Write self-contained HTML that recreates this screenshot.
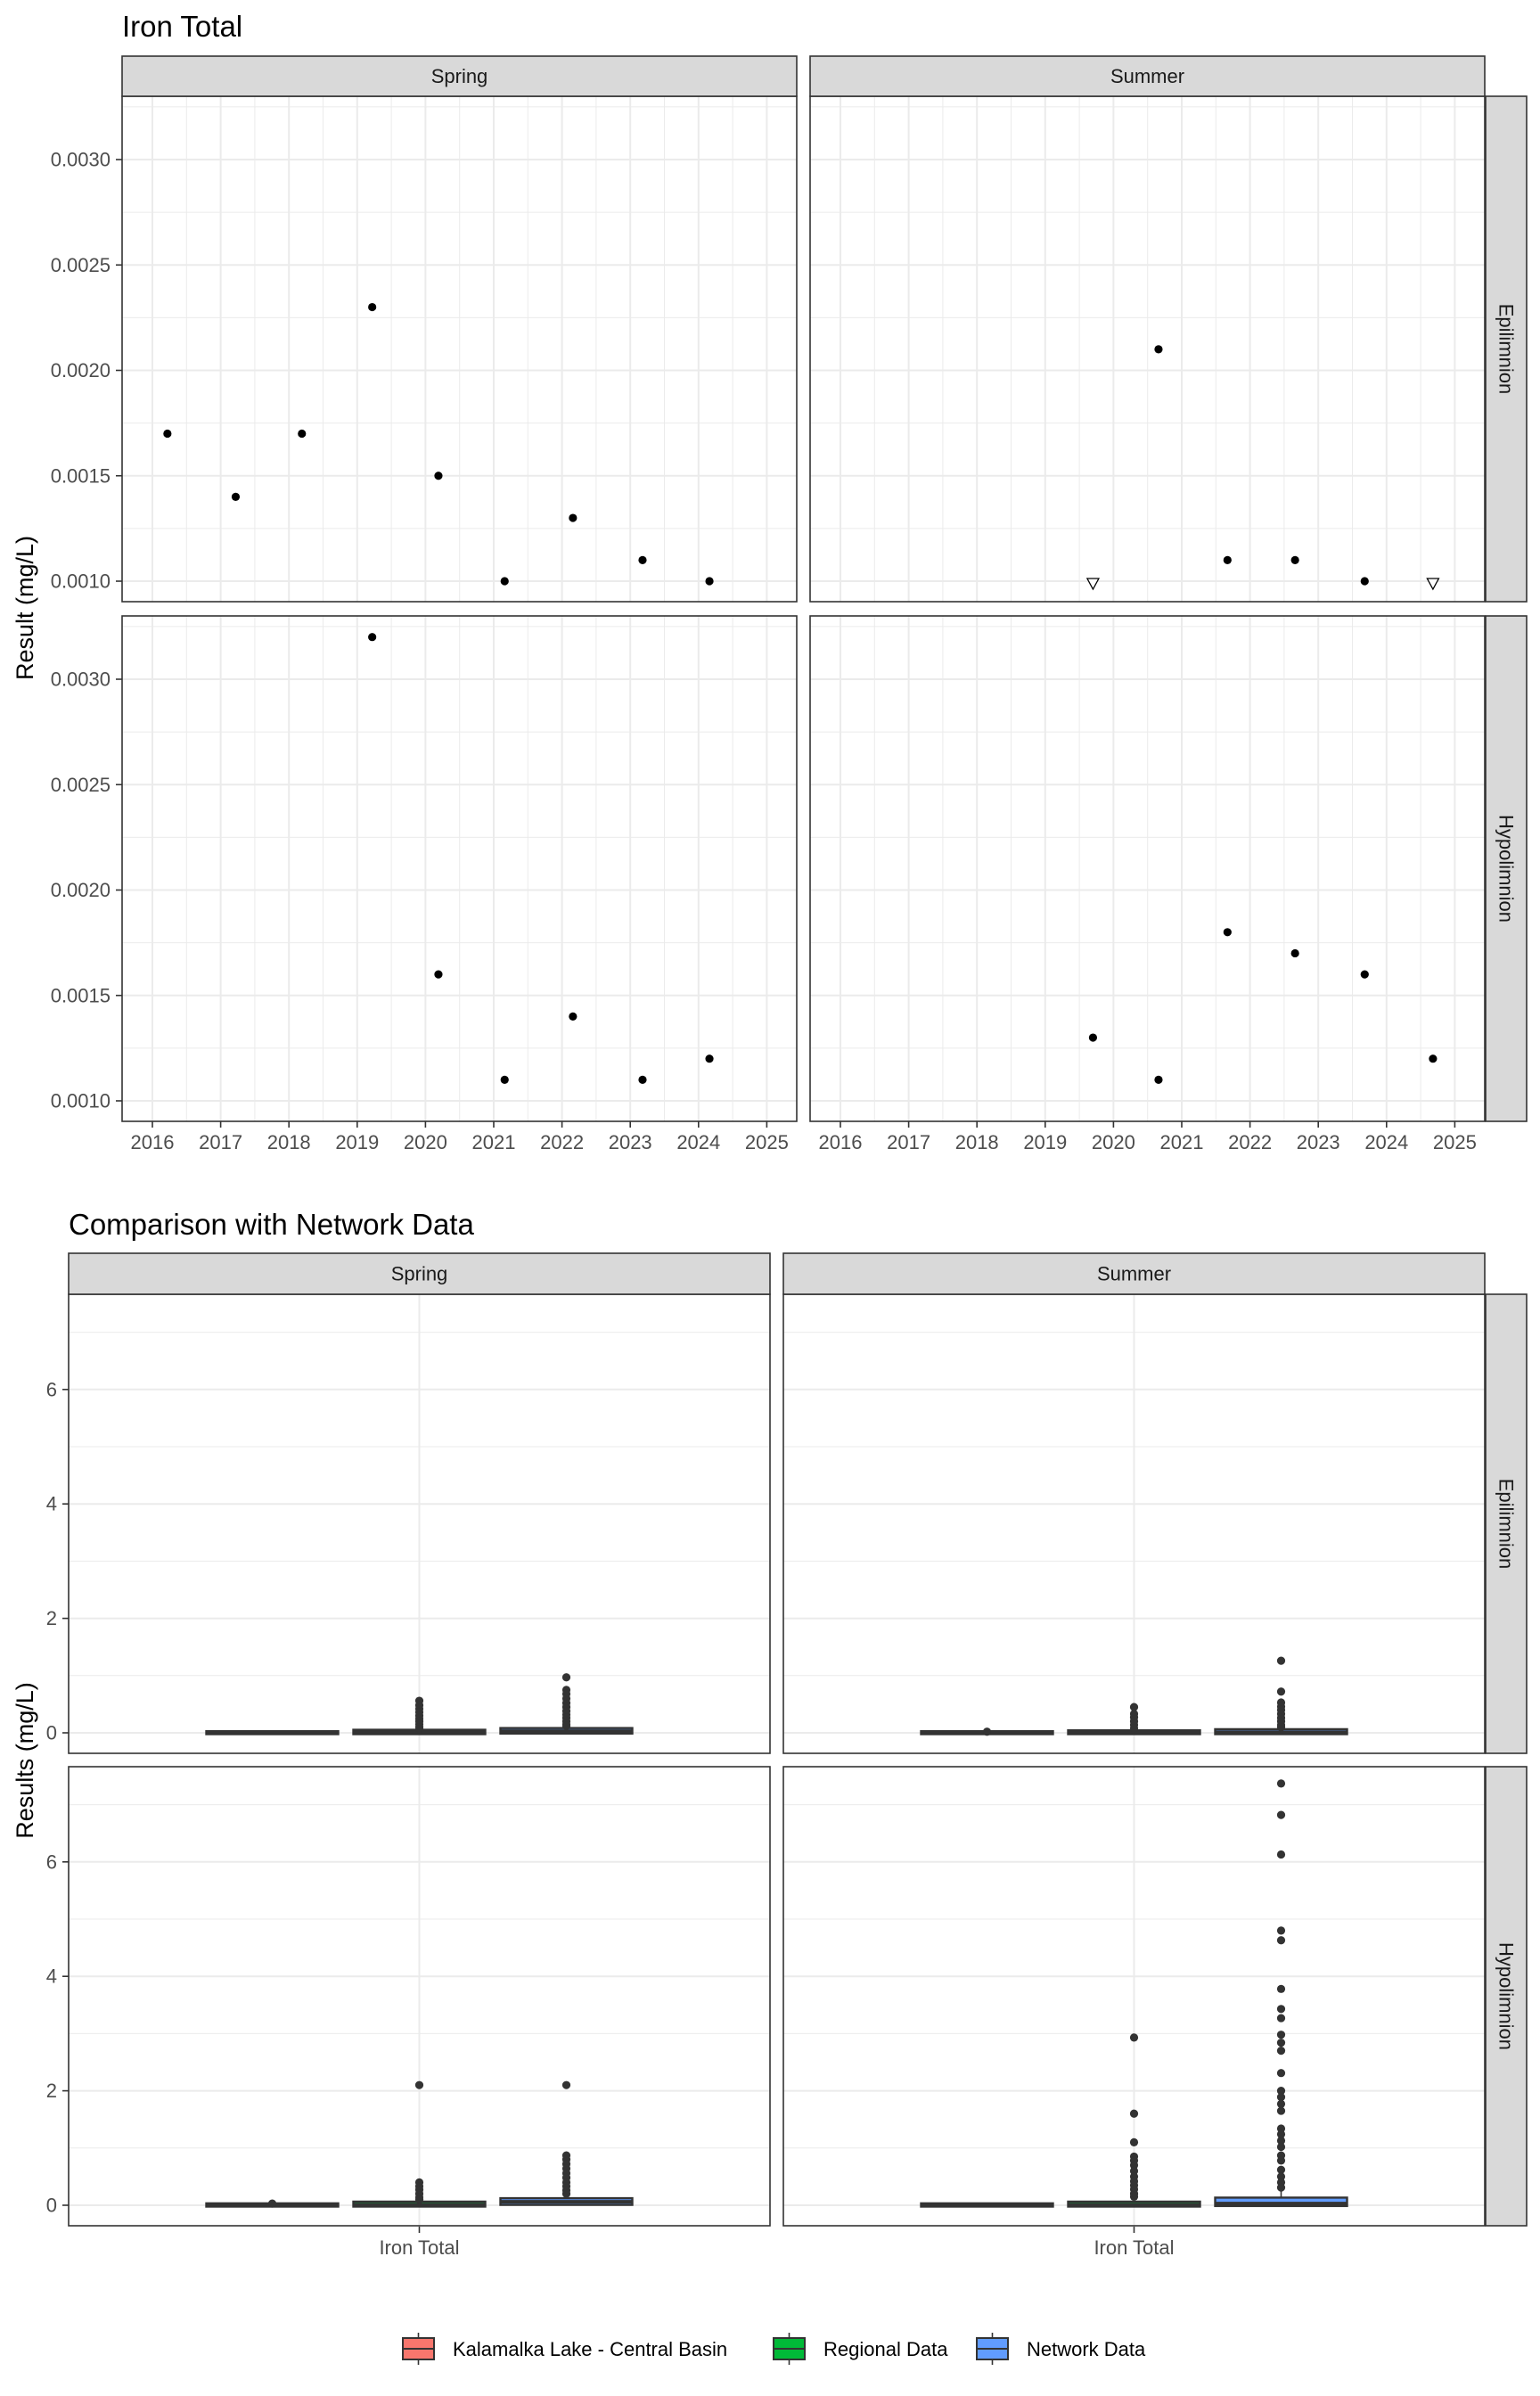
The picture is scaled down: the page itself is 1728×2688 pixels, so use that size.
<!DOCTYPE html>
<html><head><meta charset="utf-8">
<style>
html,body{margin:0;padding:0;background:#fff;}
svg{display:block;font-family:"Liberation Sans",Arial,sans-serif;}
</style></head>
<body>
<svg id="chart" width="1728" height="2688" viewBox="0 0 1728 2688" xmlns="http://www.w3.org/2000/svg">
<rect x="0" y="0" width="1728" height="2688" fill="#ffffff"/>
<text x="137" y="41" font-size="33" fill="#000">Iron Total</text>
<text x="77" y="1385" font-size="33" fill="#000">Comparison with Network Data</text>
<text transform="translate(37,682) rotate(-90)" text-anchor="middle" font-size="27" fill="#000">Result (mg/L)</text>
<text transform="translate(37,1975) rotate(-90)" text-anchor="middle" font-size="27" fill="#000">Results (mg/L)</text>
<g id="top"></g>
<g id="bottom"></g>
<g id="legend"></g>
</svg>
<script>
// ---------- Top chart data ----------
const yearTicks = [2016,2017,2018,2019,2020,2021,2022,2023,2024,2025];
const yTickVals = [0.0010,0.0015,0.0020,0.0025,0.0030];
const yTickLabels = ["0.0010","0.0015","0.0020","0.0025","0.0030"];
const springEpiYears = [2016.22,2017.22,2018.19,2019.22,2020.19,2021.16,2022.16,2023.18,2024.16];
const springEpiVals = [0.0017,0.0014,0.0017,0.0023,0.0015,0.0010,0.0013,0.0011,0.0010];
const springHypoYears = [2019.22,2020.19,2021.16,2022.16,2023.18,2024.16];
const springHypoVals = [0.0032,0.0016,0.0011,0.0014,0.0011,0.0012];
const summerEpiYears = [2019.7,2020.66,2021.67,2022.66,2023.68,2024.68];
const summerEpiVals = [0.0010,0.0021,0.0011,0.0011,0.0010,0.0010];
const summerEpiBelowDL = [1,0,0,0,0,1];
const summerHypoYears = [2019.7,2020.66,2021.67,2022.66,2023.68,2024.68];
const summerHypoVals = [0.0013,0.0011,0.0018,0.0017,0.0016,0.0012];

// ---------- Bottom chart data ----------
const groups = ["Kalamalka Lake - Central Basin","Regional Data","Network Data"];
const groupColors = ["#F8766D","#00BA38","#619CFF"];
const boxTickVals = [0,2,4,6];
const boxTickLabels = ["0","2","4","6"];
// [q1, median, q3, upper whisker] per group
const springEpiBoxes = [[0,0,0.005,0.01],[0,0.01,0.03,0.06],[0.01,0.03,0.06,0.12]];
const springEpiOut0 = [];
const springEpiOut1 = [0.56,0.48,0.42,0.36,0.3,0.25,0.2,0.15,0.1,0.07];
const springEpiOut2 = [0.97,0.75,0.68,0.6,0.52,0.45,0.38,0.32,0.26,0.2,0.15,0.12];
const summerEpiBoxes = [[0,0,0.005,0.01],[0,0.005,0.02,0.04],[0,0.01,0.04,0.08]];
const summerEpiOut0 = [0.02];
const summerEpiOut1 = [0.45,0.33,0.27,0.2,0.14,0.08];
const summerEpiOut2 = [1.26,0.72,0.53,0.46,0.4,0.33,0.26,0.2,0.14,0.1];
const springHypoBoxes = [[0,0,0.01,0.02],[0,0.01,0.04,0.08],[0.03,0.06,0.1,0.15]];
const springHypoOut0 = [0.03];
const springHypoOut1 = [2.1,0.4,0.33,0.27,0.2,0.14,0.1];
const springHypoOut2 = [2.1,0.87,0.8,0.72,0.64,0.56,0.48,0.4,0.33,0.26,0.2];
const summerHypoBoxes = [[0,0,0.01,0.02],[0,0.01,0.04,0.08],[0.01,0.03,0.11,0.25]];
const summerHypoOut0 = [];
const summerHypoOut1 = [2.93,1.6,1.1,0.85,0.78,0.7,0.6,0.5,0.42,0.35,0.28,0.2,0.15];
const summerHypoOut2 = [7.37,6.82,6.13,4.8,4.63,3.78,3.43,3.27,2.98,2.84,2.7,2.31,2.0,1.89,1.77,1.65,1.34,1.24,1.13,1.02,0.87,0.78,0.62,0.5,0.4,0.31];

const NS = "http://www.w3.org/2000/svg";
function mk(parent, tag, attrs, text){
  const e = document.createElementNS(NS, tag);
  for (const k in attrs) e.setAttribute(k, attrs[k]);
  if (text !== undefined) e.textContent = text;
  parent.appendChild(e);
  return e;
}

// ---------- Top chart ----------
const topG = document.getElementById('top');
const TOP_PANELS = [
  {name:'spring-epilimnion', x:137, y:108, yrs:springEpiYears, vals:springEpiVals, tri:null},
  {name:'summer-epilimnion', x:909, y:108, yrs:summerEpiYears, vals:summerEpiVals, tri:summerEpiBelowDL},
  {name:'spring-hypolimnion', x:137, y:691, yrs:springHypoYears, vals:springHypoVals, tri:null},
  {name:'summer-hypolimnion', x:909, y:691, yrs:summerHypoYears, vals:summerHypoVals, tri:null}
];
const TPW = 757, TPH = 567;
function txScale(px, yr){ return px + 34 + (yr - 2016) * 76.6; }
function tyScale(py, v){ return py + 71 + (0.0030 - v) * 236500; }

TOP_PANELS.forEach(p => {
  const g = mk(topG, 'g', {});
  
  
  mk(g, 'rect', {x:p.x, y:p.y, width:TPW, height:TPH, fill:'#fff'});
  // minor grid
  for (let i = 0; i < yearTicks.length - 1; i++) {
    const x = txScale(p.x, yearTicks[i] + 0.5);
    mk(g, 'line', {x1:x, x2:x, y1:p.y, y2:p.y+TPH, stroke:'#ebebeb', 'stroke-width':1});
  }
  [0.00125,0.00175,0.00225,0.00275,0.00325].forEach(v => {
    const y = tyScale(p.y, v);
    if (y > p.y && y < p.y + TPH) mk(g, 'line', {x1:p.x, x2:p.x+TPW, y1:y, y2:y, stroke:'#ebebeb', 'stroke-width':1});
  });
  // major grid
  yearTicks.forEach(yr => {
    const x = txScale(p.x, yr);
    mk(g, 'line', {x1:x, x2:x, y1:p.y, y2:p.y+TPH, stroke:'#ebebeb', 'stroke-width':2});
  });
  yTickVals.forEach(v => {
    const y = tyScale(p.y, v);
    mk(g, 'line', {x1:p.x, x2:p.x+TPW, y1:y, y2:y, stroke:'#ebebeb', 'stroke-width':2});
  });
  // points
  p.yrs.forEach((yr, i) => {
    const cx = txScale(p.x, yr), cy = tyScale(p.y, p.vals[i]);
    let m;
    if (p.tri && p.tri[i]) {
      m = mk(g, 'path', {d:`M${cx-6.5},${cy-3} L${cx+6.5},${cy-3} L${cx},${cy+9} Z`, fill:'#fff', stroke:'#000', 'stroke-width':1.3});
    } else {
      m = mk(g, 'circle', {cx:cx, cy:cy, r:4.6, fill:'#000'});
    }
    
    
  });
  mk(g, 'rect', {x:p.x, y:p.y, width:TPW, height:TPH, fill:'none', stroke:'#333', 'stroke-width':1.6});
});
// y axis ticks/labels top (left column)
[108, 691].forEach(py => {
  yTickVals.forEach((v, i) => {
    const y = tyScale(py, v);
    mk(topG, 'line', {x1:130, x2:137, y1:y, y2:y, stroke:'#333', 'stroke-width':1.6});
    const t = mk(topG, 'text', {x:124, y:y+7.5, 'text-anchor':'end', 'font-size':22, fill:'#4d4d4d'}, yTickLabels[i]);
    
    
  });
});
// x axis ticks/labels top (bottom row)
[137, 909].forEach(px => {
  yearTicks.forEach(yr => {
    const x = txScale(px, yr);
    mk(topG, 'line', {x1:x, x2:x, y1:1258, y2:1265, stroke:'#333', 'stroke-width':1.6});
    const t = mk(topG, 'text', {x:x, y:1289, 'text-anchor':'middle', 'font-size':22, fill:'#4d4d4d'}, String(yr));
    
    
  });
});
// strips top
function stripTop(parent, x, y, w, h, label){
  const g = mk(parent, 'g', {});
  
  
  mk(g, 'rect', {x:x, y:y, width:w, height:h, fill:'#d9d9d9', stroke:'#333', 'stroke-width':1.6});
  mk(g, 'text', {x:x+w/2, y:y+h/2+7.5, 'text-anchor':'middle', 'font-size':22, fill:'#1a1a1a'}, label);
}
function stripRight(parent, x, y, w, h, label){
  const g = mk(parent, 'g', {});
  
  
  mk(g, 'rect', {x:x, y:y, width:w, height:h, fill:'#d9d9d9', stroke:'#333', 'stroke-width':1.6});
  mk(g, 'text', {transform:`translate(${x+w/2-7.5},${y+h/2}) rotate(90)`, 'text-anchor':'middle', 'font-size':22, fill:'#1a1a1a'}, label);
}
stripTop(topG, 137, 63, TPW, 45, 'Spring');
stripTop(topG, 909, 63, TPW, 45, 'Summer');
stripRight(topG, 1667, 108, 46, TPH, 'Epilimnion');
stripRight(topG, 1667, 691, 46, TPH, 'Hypolimnion');

// ---------- Bottom chart ----------
const botG = document.getElementById('bottom');
const BPW = 787, BPH = 515;
const BOT_PANELS = [
  {name:'spring-epilimnion', x:77, y:1452, boxes:springEpiBoxes, outs:[springEpiOut0,springEpiOut1,springEpiOut2]},
  {name:'summer-epilimnion', x:879, y:1452, boxes:summerEpiBoxes, outs:[summerEpiOut0,summerEpiOut1,summerEpiOut2]},
  {name:'spring-hypolimnion', x:77, y:1982, boxes:springHypoBoxes, outs:[springHypoOut0,springHypoOut1,springHypoOut2]},
  {name:'summer-hypolimnion', x:879, y:1982, boxes:summerHypoBoxes, outs:[summerHypoOut0,summerHypoOut1,summerHypoOut2]}
];
function byScale(py, v){ return py + 492 - v * 64.2; }
function bxCenter(px){ return px + 393.5; }
const DODGE = 165, BW = 148;

BOT_PANELS.forEach(p => {
  const g = mk(botG, 'g', {});
  
  
  mk(g, 'rect', {x:p.x, y:p.y, width:BPW, height:BPH, fill:'#fff'});
  [1,3,5,7].forEach(v => {
    const y = byScale(p.y, v);
    mk(g, 'line', {x1:p.x, x2:p.x+BPW, y1:y, y2:y, stroke:'#ebebeb', 'stroke-width':1});
  });
  boxTickVals.forEach(v => {
    const y = byScale(p.y, v);
    mk(g, 'line', {x1:p.x, x2:p.x+BPW, y1:y, y2:y, stroke:'#ebebeb', 'stroke-width':2});
  });
  const cxp = bxCenter(p.x);
  mk(g, 'line', {x1:cxp, x2:cxp, y1:p.y, y2:p.y+BPH, stroke:'#ebebeb', 'stroke-width':2});
  p.boxes.forEach((b, gi) => {
    const cx = cxp + (gi - 1) * DODGE;
    const bg = mk(g, 'g', {});
    
    
    const yq1 = byScale(p.y, b[0]), ymed = byScale(p.y, b[1]), yq3 = byScale(p.y, b[2]), ywh = byScale(p.y, b[3]);
    mk(bg, 'line', {x1:cx, x2:cx, y1:yq3, y2:ywh, stroke:'#333', 'stroke-width':1.6});
    mk(bg, 'rect', {x:cx-BW/2, y:yq3-1.5, width:BW, height:Math.max(yq1-yq3+3, 3), fill:groupColors[gi], stroke:'#333', 'stroke-width':2.4});
    mk(bg, 'line', {x1:cx-BW/2, x2:cx+BW/2, y1:ymed, y2:ymed, stroke:'#333', 'stroke-width':4});
    p.outs[gi].forEach(v => {
      const c = mk(bg, 'circle', {cx:cx, cy:byScale(p.y, v), r:4.6, fill:'#333'});
      
      
    });
  });
  mk(g, 'rect', {x:p.x, y:p.y, width:BPW, height:BPH, fill:'none', stroke:'#333', 'stroke-width':1.6});
});
[1452, 1982].forEach(py => {
  boxTickVals.forEach((v, i) => {
    const y = byScale(py, v);
    mk(botG, 'line', {x1:70, x2:77, y1:y, y2:y, stroke:'#333', 'stroke-width':1.6});
    const t = mk(botG, 'text', {x:64, y:y+7.5, 'text-anchor':'end', 'font-size':22, fill:'#4d4d4d'}, boxTickLabels[i]);
    
    
  });
});
[77, 879].forEach(px => {
  const x = bxCenter(px);
  mk(botG, 'line', {x1:x, x2:x, y1:2498, y2:2505, stroke:'#333', 'stroke-width':1.6});
  const t = mk(botG, 'text', {x:x, y:2529, 'text-anchor':'middle', 'font-size':22, fill:'#4d4d4d'}, 'Iron Total');
  
  
});
stripTop(botG, 77, 1406, BPW, 46, 'Spring');
stripTop(botG, 879, 1406, BPW, 46, 'Summer');
stripRight(botG, 1667, 1452, 46, BPH, 'Epilimnion');
stripRight(botG, 1667, 1982, 46, BPH, 'Hypolimnion');

// ---------- Legend ----------
const legG = document.getElementById('legend');
const legX = [452, 868, 1096];
groups.forEach((name, i) => {
  const g = mk(legG, 'g', {});
  
  
  const x = legX[i];
  mk(g, 'line', {x1:x+17.5, x2:x+17.5, y1:2617, y2:2653, stroke:'#333', 'stroke-width':1.6});
  mk(g, 'rect', {x:x, y:2623, width:35, height:24, fill:groupColors[i], stroke:'#333', 'stroke-width':2});
  mk(g, 'line', {x1:x, x2:x+35, y1:2635, y2:2635, stroke:'#333', 'stroke-width':2});
  mk(g, 'text', {x:x+56, y:2643, 'font-size':22, fill:'#000'}, name);
});
</script>
</body></html>
